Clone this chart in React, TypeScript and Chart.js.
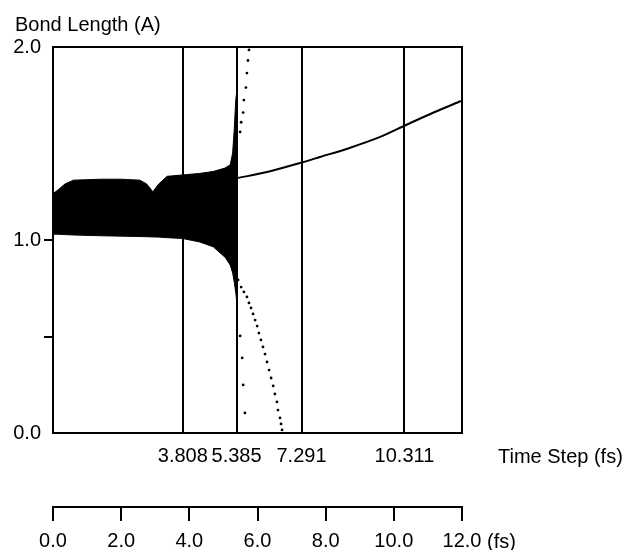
import React, { useEffect, useRef } from 'react';
import { Chart, registerables } from 'chart.js';

Chart.register(...registerables);

// Oscillation envelope of the bond length (dense band)
const bandTimes = [0, 0.15, 0.35, 0.6, 1.4, 2.0, 2.55, 2.75, 2.93, 3.1, 3.35, 3.8, 4.3, 4.7, 5.05, 5.2, 5.27, 5.32, 5.36, 5.385];
const bandUpper = [1.24, 1.26, 1.29, 1.31, 1.315, 1.315, 1.31, 1.29, 1.25, 1.29, 1.33, 1.337, 1.345, 1.355, 1.373, 1.39, 1.45, 1.58, 1.72, 1.76];
const bandLower = [1.03, 1.03, 1.028, 1.026, 1.022, 1.02, 1.018, 1.017, 1.016, 1.015, 1.012, 1.008, 0.99, 0.965, 0.91, 0.87, 0.83, 0.78, 0.73, 0.69];

// Smooth bond length after 5.385 fs
const curveTimes = [5.385, 6.28, 7.25, 7.83, 8.7, 9.6, 10.36, 11.2, 11.97];
const curveValues = [1.32, 1.352, 1.399, 1.43, 1.477, 1.534, 1.596, 1.663, 1.72];

// Dotted trajectory rising from the band
const riseTimes = [5.49, 5.52, 5.58, 5.6, 5.66, 5.69, 5.72, 5.75];
const riseValues = [1.56, 1.61, 1.66, 1.725, 1.79, 1.865, 1.93, 1.985];

// Dotted trajectory falling from the band
const fallTimes = [5.43, 5.52, 5.6, 5.69, 5.75, 5.81, 5.87, 5.93, 5.99, 6.04, 6.1, 6.16, 6.22, 6.28, 6.34, 6.4, 6.46, 6.51, 6.57, 6.6, 6.66, 6.69, 6.72];
const fallValues = [0.793, 0.756, 0.731, 0.705, 0.674, 0.648, 0.617, 0.585, 0.554, 0.518, 0.482, 0.446, 0.409, 0.368, 0.326, 0.285, 0.244, 0.202, 0.161, 0.119, 0.078, 0.047, 0.016];

// Stray dots next to the 5.385 line
const strayTimes = [5.49, 5.55, 5.58, 5.63];
const strayValues = [0.503, 0.389, 0.249, 0.104];

// Axis ticks
const markerTimes = [3.808, 5.385, 7.291, 10.311];
const markerLabels = ['3.808', '5.385', '7.291', '10.311'];
const yTicks = [0, 0.5, 1.0, 2.0];
const yTickLabels = ['0.0', '', '1.0', '2.0'];
const fsTicks = [0, 2, 4, 6, 8, 10, 12];
const fsLabels = ['0.0', '2.0', '4.0', '6.0', '8.0', '10.0', '12.0'];

const yTitle = 'Bond Length (A)';
const xTitle = 'Time Step (fs)';
const fsUnit = '(fs)';

const FAMILY = '"Liberation Sans", Arial, sans-serif';
const FONT = { family: FAMILY, size: 20 };

const zip = (xs: number[], ys: number[]) => xs.map((x, i) => ({ x, y: ys[i] }));

const textPlugin = {
  id: 'extraTexts',
  afterDraw(chart: any) {
    const { ctx, chartArea } = chart;
    ctx.save();
    ctx.strokeStyle = '#000';
    ctx.lineWidth = 2;
    ctx.strokeRect(chartArea.left, chartArea.top, chartArea.right - chartArea.left, chartArea.bottom - chartArea.top);
    ctx.fillStyle = '#000';
    ctx.font = `20px ${FAMILY}`;
    ctx.textAlign = 'left';
    ctx.textBaseline = 'alphabetic';
    ctx.fillText(yTitle, 15, 31);
    ctx.fillText(xTitle, chartArea.right + 36, 463);
    const x2 = chart.scales.x2;
    ctx.fillText(fsUnit, x2.right + 25, 548);
    ctx.restore();
  },
};

export default function App() {
  const ref = useRef<HTMLCanvasElement | null>(null);

  useEffect(() => {
    if (!ref.current) return;
    const black = '#000';
    const chart = new Chart(ref.current, {
      type: 'line',
      data: {
        datasets: [
          {
            data: zip(bandTimes, bandUpper),
            borderColor: black,
            borderWidth: 1,
            backgroundColor: black,
            pointRadius: 0,
            fill: '+1',
          },
          {
            data: zip(bandTimes, bandLower),
            borderColor: black,
            borderWidth: 1,
            pointRadius: 0,
            fill: false,
          },
          {
            data: zip(curveTimes, curveValues),
            borderColor: black,
            borderWidth: 2,
            pointRadius: 0,
            tension: 0.3,
            fill: false,
          },
          {
            data: zip(riseTimes, riseValues),
            showLine: false,
            pointRadius: 1.4,
            pointBackgroundColor: black,
            pointBorderWidth: 0,
          },
          {
            data: zip(fallTimes, fallValues),
            showLine: false,
            pointRadius: 1.4,
            pointBackgroundColor: black,
            pointBorderWidth: 0,
          },
          {
            data: zip(strayTimes, strayValues),
            showLine: false,
            pointRadius: 1.4,
            pointBackgroundColor: black,
            pointBorderWidth: 0,
          },
        ] as any,
      },
      options: {
        animation: false,
        responsive: false,
        devicePixelRatio: 1,
        layout: { padding: { top: 47, right: 164, left: 0, bottom: 0 } },
        plugins: {
          legend: { display: false },
          title: { display: false },
          tooltip: { enabled: false },
        },
        scales: {
          x: {
            type: 'linear',
            min: 0,
            max: 12,
            position: 'bottom',
            weight: 1,
            afterBuildTicks: (s: any) => {
              s.ticks = markerTimes.map((v) => ({ value: v }));
            },
            afterFit: (s: any) => {
              s.height = 74;
            },
            ticks: {
              autoSkip: false,
              maxRotation: 0,
              padding: 11,
              color: black,
              font: FONT,
              callback: (v: any) => markerLabels[markerTimes.indexOf(Number(v))] ?? '',
            },
            grid: { drawOnChartArea: true, drawTicks: false, color: black, lineWidth: 2 },
            border: { display: true, color: black, width: 2 },
          },
          x2: {
            type: 'linear',
            min: 0,
            max: 12,
            position: 'bottom',
            weight: 2,
            afterBuildTicks: (s: any) => {
              s.ticks = fsTicks.map((v) => ({ value: v }));
            },
            afterFit: (s: any) => {
              s.height = 43;
            },
            ticks: {
              autoSkip: false,
              maxRotation: 0,
              padding: 8,
              color: black,
              font: FONT,
              callback: (v: any) => fsLabels[fsTicks.indexOf(Number(v))] ?? '',
            },
            grid: { drawOnChartArea: false, drawTicks: true, tickLength: 14, color: black, lineWidth: 2 },
            border: { display: true, color: black, width: 2 },
          },
          y: {
            type: 'linear',
            min: 0,
            max: 2,
            position: 'left',
            afterBuildTicks: (s: any) => {
              s.ticks = yTicks.map((v) => ({ value: v }));
            },
            afterFit: (s: any) => {
              s.width = 53;
            },
            ticks: {
              padding: 3,
              color: black,
              font: FONT,
              callback: (v: any) => yTickLabels[yTicks.indexOf(Number(v))] ?? '',
            },
            grid: {
              drawOnChartArea: false,
              drawTicks: true,
              tickLength: 9,
              lineWidth: 2,
              color: (ctx: any) =>
                ctx.tick && (ctx.tick.value === 0.5 || ctx.tick.value === 1) ? black : 'rgba(0,0,0,0)',
            },
            border: { display: true, color: black, width: 2 },
          },
        },
      } as any,
      plugins: [textPlugin],
    });
    return () => chart.destroy();
  }, []);

  return (
    <div style={{ position: 'fixed', left: 0, top: 0, width: 626, height: 550, background: '#fff' }}>
      <canvas ref={ref} width={626} height={550} style={{ display: 'block', width: 626, height: 550 }} />
    </div>
  );
}
